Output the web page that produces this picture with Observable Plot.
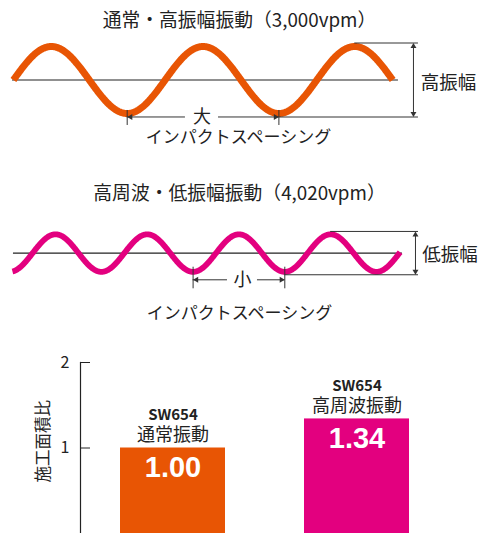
<!DOCTYPE html>
<html><head><meta charset="utf-8">
<script src="https://cdn.jsdelivr.net/npm/d3@7"></script>
<script src="https://cdn.jsdelivr.net/npm/@observablehq/plot@0.6"></script>
<style>
body{margin:0;background:#fff;}
#chart{width:478px;}
#chart svg{display:block;}
</style></head><body><div id="chart"></div>
<script>
// ---- Wave illustrations ----
const waveTitles = ["通常・高振幅振動（3,000vpm）", "高周波・低振幅振動（4,020vpm）"];
const waveAmplitudeLabels = ["高振幅", "低振幅"];
const spacingLabels = ["大", "小"];
const spacingCaption = "インパクトスペーシング";
const waveAmplitudes = [1.0, 0.56];            // relative amplitude (high / low)
const waveStart = [0.25, 0.03];               // drawn extent in cycles, counted from a trough
const waveEnd = [2.75, 4.26];
const spacingTroughs = [[1, 2], [2, 3]];      // troughs marked by the spacing arrow
const waveColors = ["#e85504", "#e3007f"];

// ---- Bar chart ----
const categories = ["通常振動", "高周波振動"];
const models = ["SW654", "SW654"];
const ratios = [1.00, 1.34];
const ratioLabels = ["1.00", "1.34"];
const barColors = ["#e85504", "#e3007f"];
const yTicks = [1, 2];
const yLabel = "施工面積比";

const FONT = "'Noto Sans CJK JP','Noto Sans',sans-serif";
const INK = "#222";
const chart = document.getElementById("chart");

function wavePlot(i, cfg) {
  const amp = waveAmplitudes[i];
  const ppu = 33.5;
  const edge = amp + (cfg.sw / 2) / ppu;
  const pts = d3.range(waveStart[i], waveEnd[i] + 1e-9, 0.004).map(c => ({c, y: -amp * Math.cos(2 * Math.PI * c)}));
  const [t0, t1] = spacingTroughs[i];
  const tri = (c, y, rot, dx, dy) => Plot.dot([{c, y}], {x: "c", y: "y", symbol: "triangle", r: 2.2, fill: "#333", stroke: null, rotate: rot, dx, dy});
  return Plot.plot({
    width: 478, height: cfg.height, margin: 0,
    style: {fontFamily: FONT, color: INK, background: "white", overflow: "visible"},
    x: {domain: [0, 1], range: cfg.xRange, axis: null},
    y: {domain: [-1, 1], range: [cfg.mid + ppu, cfg.mid - ppu], axis: null},
    marks: [
      Plot.text([waveTitles[i]], {frameAnchor: "top", dy: cfg.titleY, fontSize: 18.8, fill: INK, lineAnchor: "middle"}),
      Plot.ruleY([0], {x1: cfg.mid0, x2: cfg.mid1, stroke: "#222", strokeWidth: 1.1}),
      Plot.line(pts, {x: "c", y: "y", stroke: waveColors[i], strokeWidth: cfg.sw, strokeLinecap: "butt", strokeLinejoin: "round"}),
      // amplitude guides
      Plot.ruleY([edge], {x1: t1 + 0.5, x2: cfg.guideEnd, stroke: "#333", strokeWidth: 1}),
      Plot.ruleY([-edge], {x1: t1, x2: cfg.guideEnd, stroke: "#333", strokeWidth: 1}),
      Plot.ruleX([cfg.arrowX], {y1: -edge + 0.1, y2: edge - 0.1, stroke: "#333", strokeWidth: 1}),
      tri(cfg.arrowX, edge, 0, 0, 3.4),
      tri(cfg.arrowX, -edge, 180, 0, -3.4),
      Plot.text([waveAmplitudeLabels[i]], {x: cfg.labelX, y: cfg.labelY, textAnchor: "start", fontSize: 18.5, fill: INK}),
      // spacing arrow
      Plot.ruleY([cfg.spY], {x1: t0, x2: cfg.gap[0], stroke: "#333", strokeWidth: 1}),
      Plot.ruleY([cfg.spY], {x1: cfg.gap[1], x2: t1, stroke: "#333", strokeWidth: 1}),
      Plot.ruleX([t0, t1], {y1: cfg.tick[0], y2: cfg.tick[1], stroke: "#333", strokeWidth: 1}),
      tri(t0, cfg.spY, -90, 3.4, 0),
      tri(t1, cfg.spY, 90, -3.4, 0),
      Plot.text([spacingLabels[i]], {x: (cfg.gap[0] + cfg.gap[1]) / 2, y: cfg.spY, fontSize: 18, fill: INK}),
      Plot.text([spacingCaption], {x: cfg.capX, y: cfg.capY, fontSize: 17, fill: INK})
    ]
  });
}

chart.appendChild(wavePlot(0, {
  height: 165, xRange: [-25, 126.7], mid: 79.5, sw: 7, titleY: 20.5,
  mid0: 0.244, mid1: 2.788, guideEnd: 2.92, arrowX: 2.887, labelX: 2.935, labelY: -0.09,
  spY: -1.104, gap: [1.384, 1.602], tick: [-0.91, -1.358], capX: 1.734, capY: -1.716
}));
chart.appendChild(wavePlot(1, {
  height: 175, xRange: [9.2, 100.9], mid: 87.6, sw: 5.8, titleY: 28.5,
  mid0: 0.041, mid1: 4.283, guideEnd: 4.458, arrowX: 4.425, labelX: 4.5, labelY: -0.07,
  spY: -0.797, gap: [2.375, 2.702], tick: [-0.421, -1.066], capX: 2.506, capY: -1.803
}));

const bars = categories.map((cat, i) => ({cat, model: models[i], ratio: ratios[i], label: ratioLabels[i], color: barColors[i]}));

chart.appendChild(Plot.plot({
  width: 478, height: 193, marginLeft: 80, marginTop: 22, marginBottom: 0, marginRight: 0,
  style: {fontFamily: FONT, color: INK, background: "white", overflow: "visible"},
  x: {type: "band", domain: categories, range: [119, 410], paddingInner: 0.427, paddingOuter: 0, axis: null},
  y: {domain: [0, 2]},
  color: {type: "identity"},
  marks: [
    Plot.frame({anchor: "left", stroke: "#222", strokeWidth: 1.2}),
    Plot.axisY({ticks: yTicks, tickSize: -10, tickPadding: 21, fontSize: 16, tickFormat: d => String(d), label: null, stroke: "#222"}),
    Plot.text([{t: yLabel, v: 1.08}], {y: "v", text: "t", frameAnchor: "left", textAnchor: "middle", dx: -37, rotate: -90, fontSize: 16.5, fill: INK}),
    Plot.barY(bars, {x: "cat", y: "ratio", fill: "color"}),
    Plot.text(bars, {x: "cat", y: "ratio", text: "model", dy: -33, fontSize: 15, fontWeight: "bold", fill: INK}),
    Plot.text(bars, {x: "cat", y: "ratio", text: "cat", dy: -13, fontSize: 18, fill: INK}),
    Plot.text(bars, {x: "cat", y: "ratio", text: "label", dy: 20, fontSize: 29, fontWeight: "bold", fill: "white", fontFamily: "'Liberation Sans',Arial,sans-serif"})
  ]
}));
</script></body></html>
